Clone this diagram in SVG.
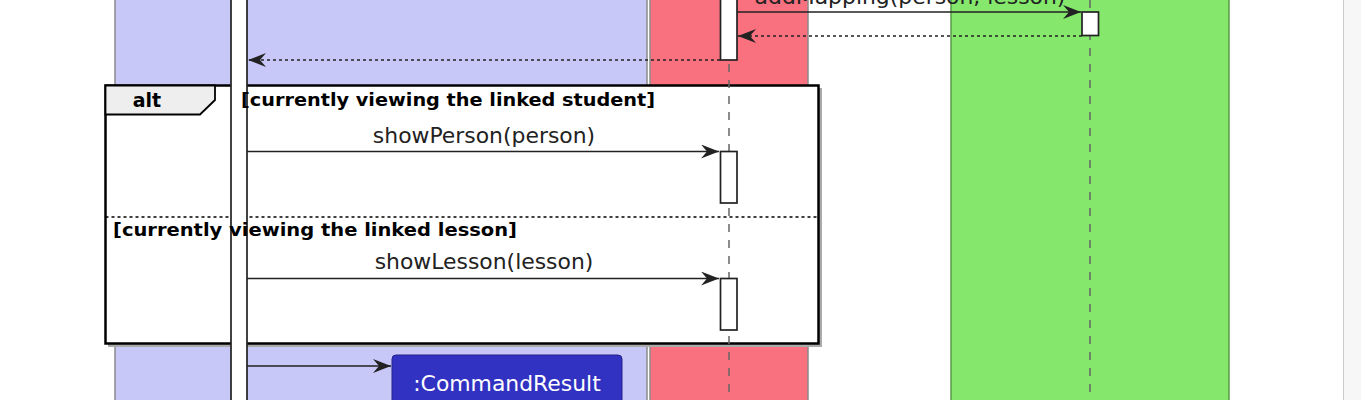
<svg xmlns="http://www.w3.org/2000/svg" width="1361" height="400" viewBox="0 0 1361 400">
<style>
.box{stroke:#8a8a8a;stroke-width:1.5}
.life{stroke:#666;stroke-width:1.5;stroke-dasharray:8,8;fill:none}
.act{fill:#fff;stroke:#222;stroke-width:1.7}
.msg{stroke:#222;stroke-width:1.7;fill:none}
.ret{stroke:#222;stroke-width:1.7;fill:none;stroke-dasharray:3,3}
.lbl{font-family:"DejaVu Sans","Liberation Sans",sans-serif;font-size:21.9px;fill:#222}
.guard{font-family:"DejaVu Sans","Liberation Sans",sans-serif;font-size:18px;font-weight:bold;fill:#000}
</style>
<defs>
<marker id="ah" viewBox="0 0 18 14" refX="18" refY="7" markerWidth="18" markerHeight="14" markerUnits="userSpaceOnUse" orient="auto">
<path d="M0,0 L18,7 L0,14 L6,7 Z" fill="#222"/>
</marker>
</defs>
<rect width="1361" height="400" fill="#fff"/>
<g id="scrollbar">
<rect x="1343" y="0" width="18" height="400" fill="#f7f7f7"/>
<line x1="1343.5" y1="0" x2="1343.5" y2="400" stroke="#ccc" stroke-width="1"/>
</g>
<g id="box-logic"><rect class="box" x="115" y="-5" width="532" height="410" fill="#C8C8F8"/></g>
<g id="box-model"><rect class="box" x="650" y="-5" width="158" height="410" fill="#F9707F"/></g>
<g id="box-storage"><rect x="951" y="-5" width="278" height="410" fill="#85E86D" stroke="#5a9a4a" stroke-width="1.5"/></g>
<g id="frame-alt">
<rect x="108" y="88" width="714" height="259" fill="#aaa"/>
<rect x="105.5" y="85.5" width="713" height="258" fill="#fff" stroke="#000" stroke-width="2.5"/>
<path d="M105.5,85.5 L215,85.5 L215,100 L200,114.5 L105.5,114.5 Z" fill="#eee" stroke="#000" stroke-width="1.8"/>
<text x="147" y="107" class="guard" text-anchor="middle" style="font-size:19px">alt</text>
<line x1="105.5" y1="217" x2="818.5" y2="217" stroke="#000" stroke-width="1.5" stroke-dasharray="3,3"/>
</g>
<g id="lifeline-logicmanager"><rect class="act" x="231" y="-5" width="16" height="410"/></g>
<g id="lifeline-model">
<line class="life" x1="729" y1="0" x2="729" y2="400"/>
<rect class="act" x="720.5" y="-5" width="16.5" height="65"/>
<rect class="act" x="720.5" y="151.5" width="16.5" height="51.5"/>
<rect class="act" x="720.5" y="278.5" width="16.5" height="51.5"/>
</g>
<g id="lifeline-storage">
<line class="life" x1="1090" y1="0" x2="1090" y2="400"/>
<rect class="act" x="1082" y="12" width="16.5" height="23.5"/>
</g>
<g id="guards">
<text x="241" y="106" class="guard" textLength="414" lengthAdjust="spacingAndGlyphs">[currently viewing the linked student]</text>
<text x="113" y="236" class="guard" textLength="404" lengthAdjust="spacingAndGlyphs">[currently viewing the linked lesson]</text>
</g>
<g id="commandresult">
<rect x="392" y="355" width="230" height="60" rx="4" fill="#3232C2" stroke="#22228a" stroke-width="1"/>
<text x="507" y="391" class="lbl" text-anchor="middle" style="fill:#fff">:CommandResult</text>
</g>
<g id="connectors">
<line class="msg" x1="737" y1="12" x2="1081" y2="12" marker-end="url(#ah)"/>
<text x="910" y="4" class="lbl" text-anchor="middle">addMapping(person, lesson)</text>
<line class="ret" x1="1082" y1="36" x2="738" y2="36" marker-end="url(#ah)"/>
<line class="ret" x1="720" y1="60" x2="248" y2="60" marker-end="url(#ah)"/>
<line class="msg" x1="247" y1="151.5" x2="719" y2="151.5" marker-end="url(#ah)"/>
<text x="484" y="143" class="lbl" text-anchor="middle">showPerson(person)</text>
<line class="msg" x1="247" y1="278.5" x2="719" y2="278.5" marker-end="url(#ah)"/>
<text x="484" y="269" class="lbl" text-anchor="middle">showLesson(lesson)</text>
<line class="msg" x1="247" y1="366" x2="391" y2="366" marker-end="url(#ah)"/>
</g>
</svg>
